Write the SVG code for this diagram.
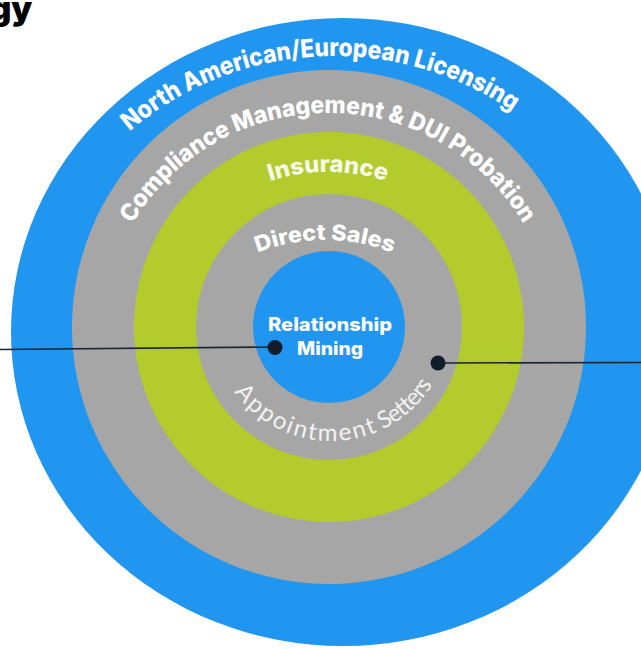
<svg xmlns="http://www.w3.org/2000/svg" xmlns:xlink="http://www.w3.org/1999/xlink" width="641" height="649" viewBox="0 0 641 649">
<style>
.blue{fill:#2196f0}
.gray{fill:#a6a6a6}
.green{fill:#b3cb2d}
.bold{font-family:Inter,Lato,"Open Sans","Liberation Sans",sans-serif;font-weight:800;fill:#ffffff}
.light{font-family:Lato,"Open Sans","Liberation Sans",sans-serif;font-weight:400;fill:#f2f2f2}
.conn{stroke:#1c2633;stroke-width:1.6;fill:none}
.dot{fill:#121d2b}
</style>
<defs>
<path id="pNA" d="M 15 368 A 315 315 0 0 1 645 368"/>
<path id="pCM" d="M 100 341 A 228 228 0 0 1 556 341"/>
<path id="pIN" d="M 137 363 A 191 191 0 0 1 519 363"/>
<path id="pDS" d="M 141 424 A 184 184 0 0 1 509 424"/>
<path id="pAS" d="M 234.2 391.9 A 120 120 0 0 0 432.7 384.7"/>
</defs>
<rect width="641" height="649" fill="#ffffff"/>
<text x="-10" y="20" font-family="Inter,'Liberation Sans',Arial,sans-serif" font-weight="900" font-size="33" fill="#000000">gy</text>
<g id="ring-licensing">
<ellipse class="blue" cx="343" cy="332" rx="332" ry="314"/>
<text class="bold" font-size="25" transform="translate(4 3) rotate(-3 330 368)"><textPath xlink:href="#pNA" href="#pNA" startOffset="50%" text-anchor="middle" textLength="412" lengthAdjust="spacingAndGlyphs">North American/European Licensing</textPath></text>
</g>
<g id="ring-compliance">
<circle class="gray" cx="329" cy="327" r="257"/>
<text class="bold" font-size="24"><textPath xlink:href="#pCM" href="#pCM" startOffset="50%" text-anchor="middle" textLength="470" lengthAdjust="spacingAndGlyphs">Compliance Management &amp; DUI Probation</textPath></text>
</g>
<g id="ring-insurance">
<circle class="green" cx="329" cy="327" r="195"/>
<text class="bold" font-size="23" style="fill:#f7fae6"><textPath xlink:href="#pIN" href="#pIN" startOffset="50%" text-anchor="middle" textLength="118" lengthAdjust="spacingAndGlyphs">Insurance</textPath></text>
</g>
<g id="ring-direct-sales">
<circle class="gray" cx="329" cy="327" r="133"/>
<text class="bold" font-size="22"><textPath xlink:href="#pDS" href="#pDS" startOffset="50%" text-anchor="middle" textLength="138" lengthAdjust="spacingAndGlyphs">Direct Sales</textPath></text>
<text class="light" font-size="24" letter-spacing="2"><textPath xlink:href="#pAS" href="#pAS" startOffset="0" textLength="162" lengthAdjust="spacingAndGlyphs">Appointment</textPath></text>
<text class="light" font-size="24" letter-spacing="-0.8"><textPath xlink:href="#pAS" href="#pAS" startOffset="166" textLength="67" lengthAdjust="spacingAndGlyphs">Setters</textPath></text>
</g>
<g id="core-relationship-mining">
<circle class="blue" cx="329" cy="327" r="76"/>
<text class="bold" font-size="18.5" text-anchor="middle"><tspan x="330" y="331" textLength="124" lengthAdjust="spacingAndGlyphs">Relationship</tspan><tspan x="330" y="355" textLength="66" lengthAdjust="spacingAndGlyphs">Mining</tspan></text>
</g>
<g id="connectors">
<path class="conn" d="M 0 349.5 L 274 347"/>
<circle class="dot" cx="275" cy="347.5" r="7.5"/>
<path class="conn" d="M 438 363 L 641 362.5"/>
<circle class="dot" cx="438" cy="363" r="7.5"/>
</g>
</svg>
